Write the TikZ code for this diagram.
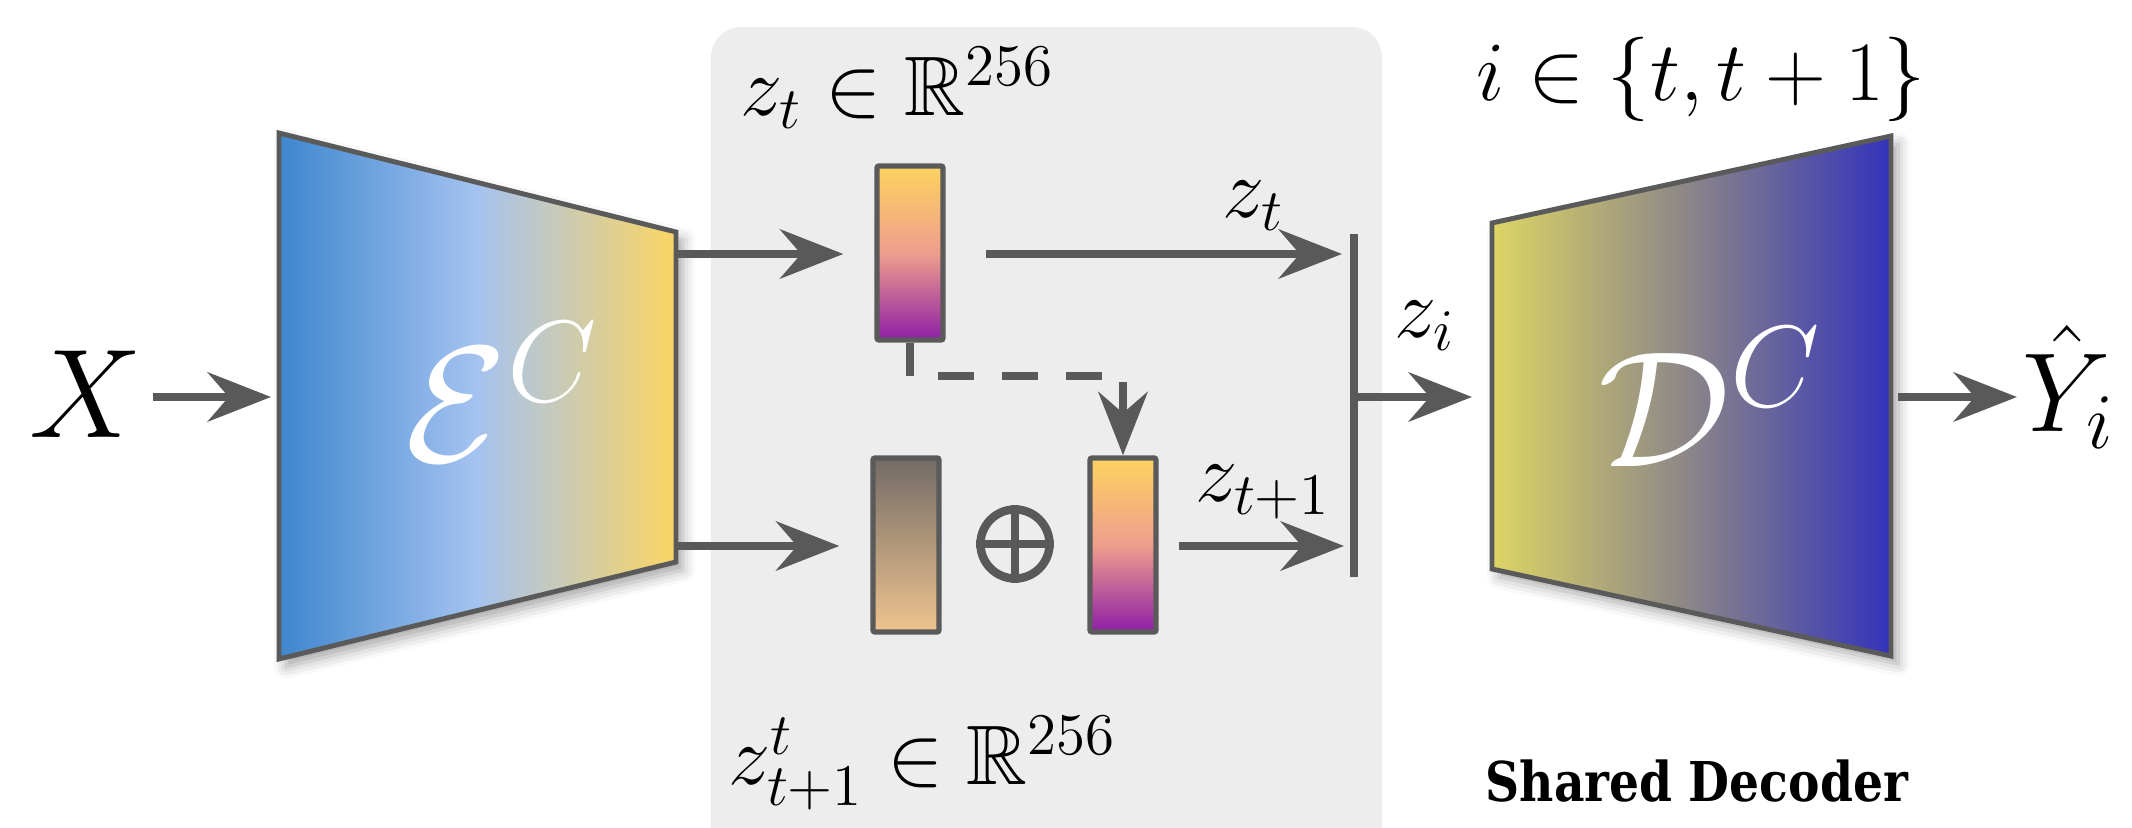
\RequirePackage{fix-cm}
\documentclass[tikz,border=0pt]{standalone}
\usepackage{amsmath,amssymb}
\usepackage{fontspec}
\newfontfamily\sdfont[FakeStretch=0.86]{DejaVu Serif}
\usetikzlibrary{arrows.meta,shadows.blur}

\definecolor{panelgray}{HTML}{EDEDED}
\definecolor{inkgray}{HTML}{595959}
\definecolor{edgegray}{HTML}{5A5A5A}
\definecolor{encblue}{HTML}{3E86CE}
\definecolor{encmid}{HTML}{A5C3F0}
\definecolor{encyellow}{HTML}{FAD563}
\definecolor{decyellow}{HTML}{DDD564}
\definecolor{decmid}{HTML}{8A8489}
\definecolor{decblue}{HTML}{3333BB}
\definecolor{vectop}{HTML}{FDD361}
\definecolor{vecmid}{HTML}{EF9E8C}
\definecolor{vecbot}{HTML}{8E1EA6}
\definecolor{noisetop}{HTML}{736B66}
\definecolor{noisebot}{HTML}{EFC48F}

\tikzset{
  softshadow/.style={blur shadow={shadow xshift=0.07cm, shadow yshift=-0.08cm,
      shadow blur radius=0.12cm, shadow opacity=35}},
  netblock/.style={draw=edgegray, line width=1.4pt, line join=miter, softshadow},
  vecbox/.style={draw=edgegray, line width=1.5pt, minimum width=0.66cm,
      minimum height=1.74cm, inner sep=0pt, rounded corners=0.6pt},
  latent/.style={vecbox, top color=vectop, bottom color=vecbot, middle color=vecmid},
  noisevec/.style={vecbox, top color=noisetop, bottom color=noisebot},
  link/.style={draw=inkgray, line width=2.4pt,
      -{Stealth[length=18pt, width=14pt, inset=6pt]}},
  plainlink/.style={draw=inkgray, line width=2.4pt},
  lbl/.style={inner sep=0pt, font=\fontsize{24}{28}\selectfont},
  biglbl/.style={inner sep=0pt, text=white, font=\fontsize{47}{50}\selectfont},
}

\begin{document}
\begin{tikzpicture}[x={(0.01cm,0)}, y={(0,-0.01cm)}]
\useasboundingbox (0,0) rectangle (2132,828);

% latent space panel
\path[fill=panelgray, rounded corners=0.3cm] (711,27) rectangle (1382,860);

% encoder and decoder blocks
\draw[netblock, left color=encblue, right color=encyellow, middle color=encmid]
  (279,133) -- (676,232) -- (676,562) -- (279,659) -- cycle;
\draw[netblock, left color=decyellow, right color=decblue, middle color=decmid]
  (1492,223) -- (1891,136) -- (1891,656) -- (1492,569) -- cycle;

\coordinate (encIn)   at (279,397);
\coordinate (encOutA) at (676,254);
\coordinate (encOutB) at (676,546);
\coordinate (decIn)   at (1492,397);
\coordinate (decOut)  at (1891,397);

\node[biglbl] (enclbl) at (502,392) {$\mathcal{E}^C$};
\node[biglbl] (declbl) at (1710,397) {$\mathcal{D}^C$};

% latent vectors
\node[latent]   (zt)    at (910,253) {};
\node[noisevec] (noise) at (906,545) {};
\node[latent]   (ztt)   at (1123,545) {};
\node[draw=inkgray, line width=2.4pt, circle, minimum size=0.69cm, inner sep=0pt]
  (sum) at (1015,544) {};
\draw[plainlink] (sum.north) -- (sum.south) (sum.west) -- (sum.east);

% selector bar
\coordinate (barTop) at (1354,234);
\coordinate (barBot) at (1354,577);
\coordinate (barA)   at (1354,254);
\coordinate (barB)   at (1354,546);
\coordinate (barMid) at (1354,397);
\draw[inkgray, line width=2pt] (barTop) -- (barBot);

% input and output
\node[inner sep=0pt, font=\fontsize{36}{40}\selectfont] (X) at (86,394) {$X$};
\node[inner sep=0pt, anchor=base west, font=\fontsize{32}{36}\selectfont]
  (Yhat) at (2022,432) {$\hat{Y}_i$};

% connectors
\draw[link, shorten <=0.1cm, shorten >=0.08cm] (X.east |- encIn) -- (encIn);
\draw[link, shorten >=0.31cm] (encOutA) -- (zt.west |- encOutA);
\draw[link, shorten >=0.31cm] (encOutB) -- (noise.west |- encOutB);
\draw[link, shorten <=0.4cm, shorten >=0.12cm] (zt.east |- barA) -- (barA);
\draw[link, shorten <=0.2cm, shorten >=0.1cm] (ztt.east |- barB) -- (barB);
\draw[link, shorten >=0.2cm] (barMid) -- (decIn);
\draw[link, shorten <=0.07cm, shorten >=0.05cm] (decOut) -- (Yhat.west |- decOut);

% copy of z_t feeding the next step
\coordinate (bend) at (910,376);
\coordinate (drop) at (1123,376);
\draw[plainlink] (zt.south) -- (bend);
\draw[plainlink, dash pattern=on 0.36cm off 0.28cm, dash phase=0.36cm] (bend) -- (drop);
\draw[link, shorten <=0.06cm] (drop) -- (ztt.north);

% labels
\node[lbl, anchor=base west] (ztlbl)  at (1222,218) {$z_t$};
\node[lbl, anchor=base west] (zttlbl) at (1195,502) {$z_{t+1}$};
\node[lbl, anchor=base west] (zilbl)  at (1394,338) {$z_i$};
\node[lbl, anchor=base west] (ilbl)   at (1476,101) {$i \in \{t, t+1\}$};
\node[lbl, anchor=base west] (toplbl) at (740,116) {$z_t \in \mathbb{R}^{256}$};
\node[lbl, anchor=base west] (botlbl) at (728,785) {$z^t_{t+1} \in \mathbb{R}^{256}$};
\node[anchor=base west, inner sep=0pt,
      font=\sdfont\bfseries\fontsize{15.6}{18}\selectfont] (shared) at (1485,802)
  {Shared Decoder};
\end{tikzpicture}
\end{document}
